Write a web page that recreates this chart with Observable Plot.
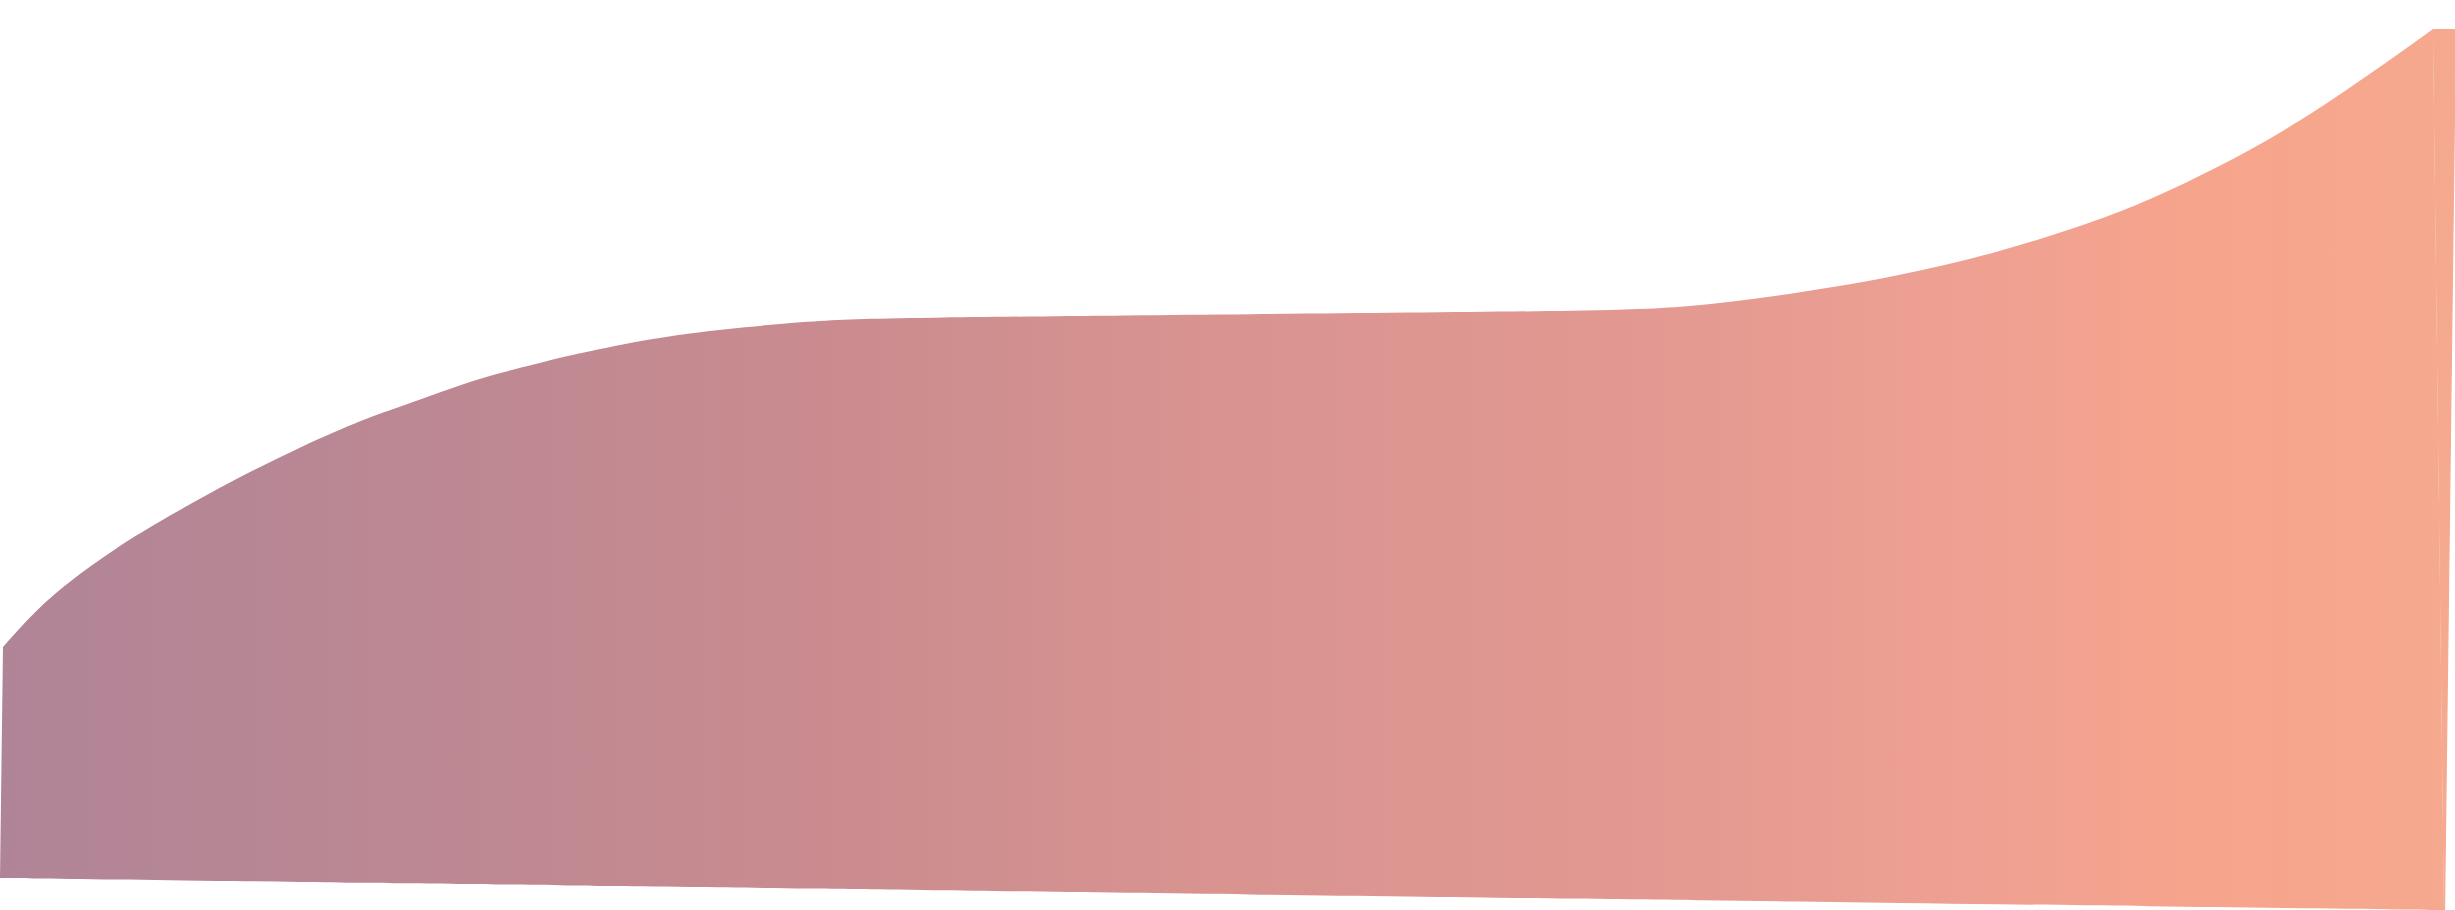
<!DOCTYPE html>
<html>
<head>
<meta charset="utf-8">
<script src="https://cdn.jsdelivr.net/npm/d3@7"></script>
<script src="https://cdn.jsdelivr.net/npm/@observablehq/plot@0.6"></script>
<style>
  html, body { margin: 0; padding: 0; background: #ffffff; overflow: hidden; }
  #chart svg { display: block; }
</style>
</head>
<body>
<div id="chart"></div>
<script>
// Upper (curved) edge of the band (pixel units, y down)
const topX = [3, 33, 67, 117, 167, 233, 300, 366, 400, 471, 500, 575, 600, 680, 820, 884, 1250, 1620, 1700, 1800, 1900, 2000, 2091, 2150, 2217, 2283, 2350, 2400, 2433];
const topY = [647, 613, 583, 547, 517, 480, 447, 418, 407, 381, 373, 354, 349, 333, 320, 318, 314, 311, 306, 293, 276, 252, 223, 200, 168, 132, 88, 53, 29];

// Lower (straight, slightly tilted) edge of the band
const baseX = [0, 33, 67, 117, 167, 233, 300, 366, 400, 471, 500, 575, 600, 680, 820, 884, 1250, 1620, 1700, 1800, 1900, 2000, 2091, 2150, 2217, 2283, 2350, 2400, 2444];
const baseY = [878, 878.4, 878.9, 879.5, 880.2, 881.1, 881.9, 882.8, 883.2, 884.2, 884.5, 885.5, 885.9, 886.9, 888.7, 889.6, 894.4, 899.2, 900.3, 901.6, 902.9, 904.2, 905.4, 906.1, 907.0, 907.9, 908.8, 909.4, 910];

// Sharp top-right corner and right edge
const cornerX = [2433, 2455, 2444];
const cornerY = [29, 29, 910];

// Horizontal colour ramp of the fill
const rampOffsets = [0, 0.17, 0.33, 0.5, 0.66, 0.8, 0.9, 1];
const rampColors = ["#b08497", "#bc8893", "#c98b8f", "#d99490", "#e29891", "#eea092", "#f7a48c", "#f5a98f"];

const W = 2455, H = 910;

const band = topX.map((x, i) => ({x1: baseX[i], y1: baseY[i], x2: x, y2: topY[i]}));
const corner = cornerX.map((x, i) => ({x, y: cornerY[i]}));

const chart = Plot.plot({
  width: W,
  height: H,
  margin: 0,
  style: {background: "#ffffff"},
  x: {domain: [0, W], range: [0, W], axis: null},
  y: {domain: [0, H], range: [0, H], axis: null},
  marks: [
    Plot.area(band, {
      x1: "x1", y1: "y1", x2: "x2", y2: "y2",
      curve: "basis",
      fill: "url(#bandFade)",
      stroke: "none"
    }),
    Plot.line(corner, {
      x: "x", y: "y",
      curve: "linear-closed",
      fill: "url(#bandFade)",
      stroke: "url(#bandFade)",
      strokeWidth: 1.2
    })
  ]
});

const sx = chart.scale("x");
const defs = d3.select(chart).insert("defs", ":first-child");
const grad = defs.append("linearGradient")
  .attr("id", "bandFade")
  .attr("gradientUnits", "userSpaceOnUse")
  .attr("x1", sx.apply(0)).attr("y1", 0)
  .attr("x2", sx.apply(W)).attr("y2", 0);
rampOffsets.forEach((o, i) => {
  grad.append("stop").attr("offset", o).attr("stop-color", rampColors[i]);
});

document.getElementById("chart").appendChild(chart);
</script>
</body>
</html>
